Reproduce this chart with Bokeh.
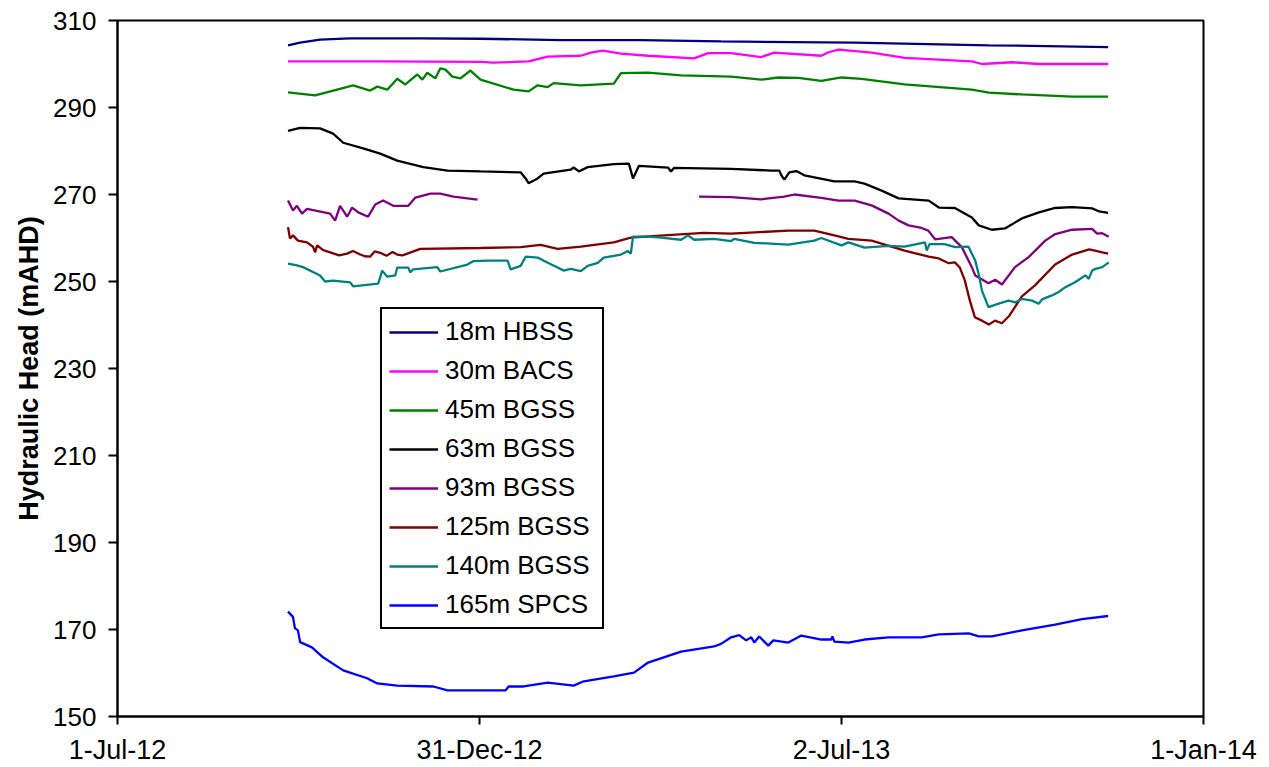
import numpy as np
import pandas as pd
from bokeh.plotting import figure
from bokeh.models import Range1d, FixedTicker, CustomJSTickFormatter, Legend
from bokeh.embed import file_html
from bokeh.resources import INLINE

# x values: days after 1-Jul-2012 ; y values: hydraulic head (mAHD)
BASE_DATE = "2012-07-01"

hbss18_days = [86.2, 92.3, 102.4, 117.6, 153.1, 183.5, 224.0, 264.6, 305.1, 372.6, 440.5, 500.8]
hbss18_vals = [304.3, 304.9, 305.6, 305.9, 305.9, 305.8, 305.5, 305.5, 305.2, 304.9, 304.3, 303.9]

bacs30_days = [86.2, 130.0, 183.5, 190.1, 207.8, 217.5, 234.2, 239.3, 245.3, 254.5, 268.2, 291.5, 298.6,
               310.2, 325.4, 332.0, 355.8, 359.4, 364.5, 381.2, 397.9, 431.9, 437.0, 452.2, 465.8, 500.8]
bacs30_vals = [300.6, 300.6, 300.5, 300.3, 300.6, 301.7, 301.9, 302.6, 303.1, 302.4, 301.9, 301.3, 302.5,
               302.5, 301.6, 302.6, 301.9, 302.7, 303.3, 302.6, 301.4, 300.6, 300.0, 300.4, 300.0, 300.0]

bgss45_days = [86.2, 99.9, 112.5, 119.1, 127.7, 131.3, 136.4, 141.4, 145.5, 151.6, 154.1, 156.6, 160.7,
               163.2, 165.8, 169.3, 173.4, 178.4, 183.5, 200.2, 207.8, 212.4, 217.5, 220.5, 234.2, 250.9,
               254.5, 268.2, 284.9, 310.2, 325.4, 334.1, 344.2, 355.8, 366.0, 376.1, 397.9, 431.9, 440.5,
               457.2, 482.6, 500.8]
bgss45_vals = [293.5, 292.8, 294.3, 295.1, 293.9, 294.8, 294.1, 296.6, 295.3, 297.6, 296.4, 298.0, 296.7,
               299.0, 298.7, 297.1, 296.7, 298.5, 296.4, 294.1, 293.7, 295.1, 294.7, 295.6, 295.1, 295.5,
               297.9, 298.0, 297.4, 297.1, 296.4, 296.9, 296.8, 296.1, 296.9, 296.6, 295.3, 294.1, 293.4,
               293.0, 292.5, 292.5]

bgss63_days = [86.2, 92.3, 102.4, 109.0, 114.1, 124.2, 132.8, 141.4, 154.6, 166.8, 183.5, 203.8, 206.3,
               207.8, 212.4, 215.4, 229.1, 230.6, 233.2, 237.7, 250.9, 258.5, 260.6, 263.6, 278.3, 279.8,
               281.3, 310.2, 330.5, 334.6, 335.6, 337.1, 339.6, 343.2, 347.2, 362.4, 372.6, 377.6, 386.3,
               394.9, 410.1, 415.2, 423.3, 431.9, 435.4, 442.0, 448.6, 457.2, 465.8, 474.0, 482.6, 492.7,
               496.3, 500.8]
bgss63_vals = [284.6, 285.3, 285.2, 284.0, 281.9, 280.6, 279.4, 277.8, 276.3, 275.5, 275.3, 275.1, 273.7,
               272.6, 273.7, 274.8, 275.7, 276.2, 275.3, 276.3, 277.0, 277.1, 273.7, 276.6, 276.2, 275.3,
               276.1, 275.9, 275.5, 275.5, 274.4, 273.4, 275.1, 275.4, 274.4, 273.0, 273.0, 272.5, 270.9,
               269.1, 268.6, 267.0, 266.9, 264.7, 262.9, 261.9, 262.2, 264.5, 265.9, 266.9, 267.1, 266.8,
               266.1, 265.8]

bgss93_days = [86.2, 88.7, 90.7, 93.3, 95.8, 107.5, 110.0, 112.5, 116.1, 118.6, 121.7, 126.7, 130.3,
               134.3, 139.4, 147.0, 150.6, 158.2, 163.2, 169.8, 182.0, 238.0,
               294.0, 310.2, 325.4, 337.1, 342.2, 355.8, 364.5, 372.6, 381.2, 389.8, 394.9, 399.9, 406.5,
               409.9, 413.3, 421.7, 426.8, 431.9, 433.6, 440.3, 443.7, 447.1, 453.7, 460.6, 469.0, 474.1,
               482.6, 492.7, 495.2, 497.8, 501.1]
bgss93_vals = [268.6, 266.3, 267.4, 265.6, 266.7, 265.6, 264.0, 267.4, 264.9, 267.0, 265.9, 264.9, 267.7,
               268.6, 267.4, 267.4, 269.3, 270.2, 270.2, 269.5, 268.8, np.nan,
               269.5, 269.4, 268.9, 269.5, 270.0, 269.2, 268.6, 268.6, 267.5, 265.6, 264.0, 262.9, 262.3,
               261.7, 259.7, 260.2, 257.9, 253.3, 251.4, 249.6, 250.4, 249.3, 253.3, 255.6, 259.4, 260.9,
               261.9, 262.1, 261.0, 261.1, 260.3]

bgss125_days = [86.2, 87.2, 88.7, 91.2, 95.8, 98.8, 99.9, 100.9, 104.0, 107.5, 112.0, 116.1, 119.0,
                122.7, 125.0, 127.7, 130.0, 132.8, 136.0, 139.0, 141.4, 144.0, 146.5, 153.1, 183.5,
                203.8, 213.9, 222.5, 234.2, 250.9, 259.5, 276.3, 296.5, 310.2, 339.1, 352.3, 362.4,
                369.5, 381.2, 397.9, 410.1, 415.2, 420.2, 423.3, 425.8, 428.3, 430.9, 433.4, 437.0,
                440.5, 443.6, 447.1, 450.6, 457.2, 463.8, 474.0, 482.6, 491.2, 494.2, 497.8, 500.8]
bgss125_vals = [262.5, 259.9, 260.6, 259.4, 259.0, 258.0, 256.7, 258.3, 257.2, 256.7, 256.0, 256.4, 257.0,
                256.2, 255.8, 255.7, 256.9, 256.6, 255.9, 256.8, 256.2, 256.0, 256.4, 257.5, 257.7,
                257.9, 258.4, 257.5, 258.0, 259.0, 260.1, 260.6, 261.2, 261.0, 261.7, 261.7, 260.6,
                259.8, 259.4, 257.1, 255.7, 255.3, 254.2, 254.4, 253.2, 250.3, 245.6, 241.8, 241.0,
                240.1, 241.0, 240.4, 242.0, 246.6, 249.1, 253.9, 256.2, 257.4, 257.1, 256.7, 256.4]

bgss140_days = [86.2, 90.7, 93.8, 102.4, 104.9, 109.0, 117.6, 119.1, 131.8, 133.8, 136.4, 140.4, 141.4,
                147.0, 148.0, 149.5, 161.7, 163.2, 176.9, 180.0, 187.0, 197.2, 198.7, 203.8, 206.3,
                212.4, 217.5, 222.5, 225.6, 229.1, 234.2, 237.7, 242.8, 245.8, 250.9, 254.5, 258.0,
                259.5, 260.6, 268.2, 274.7, 284.9, 288.4, 291.5, 301.6, 310.2, 311.7, 321.9, 339.1,
                352.3, 355.8, 366.0, 369.5, 377.6, 389.8, 397.9, 408.2, 409.1, 410.5, 418.0, 423.5,
                430.2, 433.6, 435.3, 437.0, 440.3, 445.4, 450.5, 453.8, 457.2, 462.3, 465.7, 467.4,
                472.4, 475.8, 479.2, 484.3, 489.3, 491.0, 492.7, 494.4, 497.8, 501.1]
bgss140_vals = [254.1, 253.7, 253.3, 251.4, 250.0, 250.2, 249.8, 248.9, 249.5, 252.5, 251.1, 251.4, 253.2,
                253.2, 252.1, 252.8, 253.3, 252.3, 253.9, 254.7, 254.8, 254.8, 252.8, 253.6, 255.7,
                255.5, 254.3, 253.2, 252.5, 252.9, 252.4, 253.6, 254.3, 255.5, 255.9, 256.2, 257.0,
                256.4, 260.3, 260.3, 260.1, 259.6, 260.6, 259.6, 259.8, 259.3, 259.8, 258.9, 258.5,
                259.4, 260.0, 258.3, 259.0, 257.8, 258.2, 258.0, 259.0, 257.1, 258.6, 258.6, 257.9,
                258.0, 254.8, 251.8, 247.9, 244.1, 244.9, 245.6, 245.2, 246.0, 245.6, 244.9, 245.9,
                246.8, 247.6, 248.7, 249.9, 251.4, 250.6, 252.5, 252.9, 253.3, 254.4]

spcs165_days = [86.2, 88.7, 89.7, 91.2, 92.3, 98.3, 103.9, 114.1, 126.2, 131.3, 141.4, 159.7, 166.8,
                183.5, 196.2, 197.7, 205.3, 217.5, 230.6, 235.7, 250.9, 261.1, 268.2, 284.9, 301.6,
                305.1, 310.2, 314.3, 317.8, 320.4, 321.9, 324.4, 329.0, 331.5, 339.1, 345.7, 355.8,
                360.9, 361.4, 362.4, 369.5, 377.6, 389.8, 406.5, 415.2, 430.4, 435.4, 442.0, 457.2,
                474.0, 487.6, 500.8]
spcs165_vals = [174.1, 172.9, 170.3, 169.8, 167.1, 165.9, 163.6, 160.6, 158.8, 157.6, 157.1, 156.9, 156.0,
                156.0, 156.0, 156.9, 156.9, 157.8, 157.1, 158.1, 159.2, 160.1, 162.4, 164.9, 166.1,
                166.7, 168.2, 168.7, 167.5, 168.2, 167.0, 168.4, 166.3, 167.5, 167.0, 168.6, 167.7,
                167.7, 168.4, 167.2, 167.0, 167.7, 168.2, 168.2, 168.9, 169.1, 168.4, 168.4, 169.8,
                171.1, 172.4, 173.1]

series_names = ["18m HBSS", "30m BACS", "45m BGSS", "63m BGSS", "93m BGSS",
                "125m BGSS", "140m BGSS", "165m SPCS"]
series_colors = ["#000080", "#FF00FF", "#008000", "#000000", "#800080",
                 "#800000", "#008080", "#0000FF"]
series_data = [(hbss18_days, hbss18_vals), (bacs30_days, bacs30_vals), (bgss45_days, bgss45_vals),
               (bgss63_days, bgss63_vals), (bgss93_days, bgss93_vals), (bgss125_days, bgss125_vals),
               (bgss140_days, bgss140_vals), (spcs165_days, spcs165_vals)]

x_tick_dates = ["2012-07-01", "2012-12-31", "2013-07-02", "2014-01-01"]
y_ticks = [150, 170, 190, 210, 230, 250, 270, 290, 310]
y_label = "Hydraulic Head (mAHD)"

FONT = "Liberation Sans"

def to_dt(days):
    return pd.Timestamp(BASE_DATE) + pd.to_timedelta(np.asarray(days, dtype=float), unit="D")

def ms(d):
    return pd.Timestamp(d).value // 10**6

p = figure(width=1269, height=767, x_axis_type="datetime", output_backend="svg",
           toolbar_location=None, tools="",
           x_range=Range1d(ms(x_tick_dates[0]), ms(x_tick_dates[-1])),
           y_range=Range1d(y_ticks[0], y_ticks[-1]),
           min_border_left=117, min_border_right=66, min_border_top=20, min_border_bottom=50)

p.background_fill_color = "white"
p.border_fill_color = "white"
p.outline_line_color = "black"
p.outline_line_width = 2
p.xgrid.visible = False
p.ygrid.visible = False

items = []
for name, color, (d, v) in zip(series_names, series_colors, series_data):
    r = p.line(to_dt(d), np.asarray(v, dtype=float), line_color=color, line_width=2.3)
    items.append((name, [r]))

legend = Legend(items=items, location=(263, 87))
legend.border_line_color = "black"
legend.border_line_alpha = 1
legend.border_line_width = 2
legend.background_fill_alpha = 1
legend.label_text_font = FONT
legend.label_text_font_size = "26px"
legend.label_text_color = "black"
legend.glyph_width = 49
legend.glyph_height = 30
legend.label_height = 30
legend.label_width = 150
legend.spacing = 8
legend.padding = 7
legend.margin = 0
legend.label_standoff = 7
p.add_layout(legend, "center")

# x axis
p.xaxis.ticker = FixedTicker(ticks=[ms(t) for t in x_tick_dates])
p.xaxis.formatter = CustomJSTickFormatter(code="""
const d = new Date(tick);
const m = ['Jan','Feb','Mar','Apr','May','Jun','Jul','Aug','Sep','Oct','Nov','Dec'][d.getUTCMonth()];
return d.getUTCDate() + '-' + m + '-' + String(d.getUTCFullYear()).slice(2);
""")
p.yaxis.ticker = FixedTicker(ticks=y_ticks)
for ax in (p.xaxis, p.yaxis):
    ax.axis_line_color = "black"
    ax.axis_line_width = 2
    ax.major_tick_line_color = "black"
    ax.major_tick_line_width = 2
    ax.minor_tick_line_color = None
    ax.major_tick_in = 0
    ax.major_label_text_font = FONT
    ax.major_label_text_color = "black"

p.xaxis.major_label_text_font_size = "27px"
p.yaxis.major_label_text_font_size = "26px"
p.xaxis.major_tick_out = 8
p.xaxis.major_label_standoff = 10
p.yaxis.major_tick_out = 9
p.yaxis.major_label_standoff = 12
p.yaxis.axis_label = y_label
p.yaxis.axis_label_text_font = FONT
p.yaxis.axis_label_text_font_size = "27px"
p.yaxis.axis_label_text_font_style = "bold"
p.yaxis.axis_label_text_color = "black"
p.yaxis.axis_label_standoff = 6

open("out.html", "w").write(file_html(p, INLINE))
